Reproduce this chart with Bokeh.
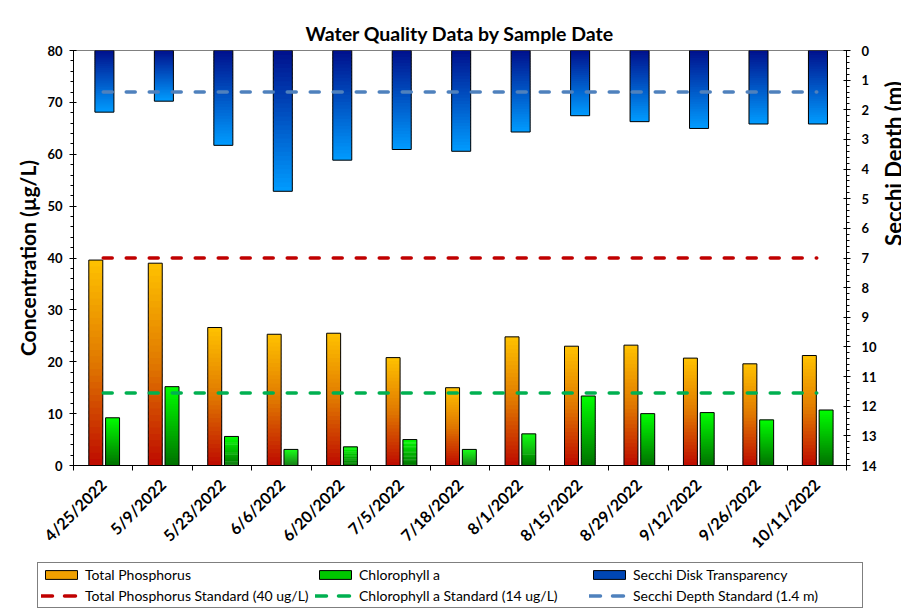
import numpy as np
from bokeh.plotting import figure
from bokeh.layouts import row, column
from bokeh.models import (Range1d, LinearAxis, FixedTicker, SingleIntervalTicker,
                          ColumnDataSource, Legend, LegendItem, Label)
from bokeh.embed import file_html
from bokeh.resources import INLINE

# ---------------- data ----------------
dates = ["4/25/2022", "5/9/2022", "5/23/2022", "6/6/2022", "6/20/2022", "7/5/2022",
         "7/18/2022", "8/1/2022", "8/15/2022", "8/29/2022", "9/12/2022", "9/26/2022",
         "10/11/2022"]
total_phosphorus = [39.6, 39.0, 26.6, 25.3, 25.5, 20.8, 15.0, 24.8, 23.0, 23.2, 20.7, 19.6, 21.2]
chlorophyll_a = [9.2, 15.2, 5.6, 3.1, 3.6, 5.0, 3.1, 6.1, 13.4, 10.0, 10.2, 8.8, 10.7]
secchi_depth = [2.08, 1.71, 3.20, 4.75, 3.70, 3.34, 3.40, 2.75, 2.20, 2.40, 2.63, 2.48, 2.48]
tp_standard = 40
chl_standard = 14
secchi_standard = 1.4

FONT = "Lato"
n = len(dates)
idx = np.arange(n)

TP_COLOR, CHL_COLOR, SEC_COLOR = "#C00000", "#00B050", "#4F81BD"
DASH = dict(line_width=3.5, line_dash="9 14", line_cap="round")
LEG_DASH = dict(line_width=3.5, line_dash="11 12", line_cap="round")

# ---------------- main figure ----------------
p = figure(width=879, height=560,
           x_range=Range1d(-0.5, n - 0.5), y_range=Range1d(0, 80),
           output_backend="svg", toolbar_location=None,
           min_border_left=73, min_border_right=32, min_border_top=50, min_border_bottom=94,
           title="Water Quality Data by Sample Date")
p.extra_y_ranges = {"secchi": Range1d(14, 0)}
p.xgrid.visible = False
p.ygrid.visible = False
p.outline_line_color = "#808080"
p.background_fill_color = "white"

p.title.text_font = FONT
p.title.text_font_size = "19.5px"
p.title.text_font_style = "bold"
p.title.text_color = "black"
p.title.align = "center"
p.title.standoff = 11


def interp(stops, t):
    for (p0, c0), (p1, c1) in zip(stops[:-1], stops[1:]):
        if p0 <= t <= p1:
            f = (t - p0) / (p1 - p0)
            r, g, b = [int(round(a + (bb - a) * f)) for a, bb in zip(c0, c1)]
            return "#%02x%02x%02x" % (r, g, b)
    return "#%02x%02x%02x" % stops[-1][1]


def gradient_source(xs, values, stops, nsl=32):
    # each slice overlaps the next one by half a slice; later slices cover it
    X, T, B, C = [], [], [], []
    for x, v in zip(xs, values):
        for k in range(nsl):
            X.append(x)
            B.append(v * k / nsl)
            T.append(v * min(k + 1.5, nsl) / nsl)
            C.append(interp(stops, (k + 0.5) / nsl))
    return ColumnDataSource(dict(x=X, top=T, bottom=B, color=C))


tp_stops = [(0.0, (190, 10, 0)), (0.5, (224, 120, 0)), (1.0, (255, 194, 0))]
chl_stops = [(0.0, (0, 112, 0)), (1.0, (0, 255, 0))]
sec_stops = [(0.0, (0, 16, 140)), (1.0, (0, 156, 255))]

tp_x = idx - 0.125
chl_x = idx + 0.157
sec_x = idx + 0.02
bar_w = 0.235
sec_w = 0.32

# Secchi bars (hanging from the top, inverted right axis)
p.vbar(x="x", top="top", bottom="bottom", width=sec_w, source=gradient_source(sec_x, secchi_depth, sec_stops),
       fill_color="color", line_color=None, y_range_name="secchi")
p.vbar(x=sec_x, top=0, bottom=secchi_depth, width=sec_w, fill_color=None,
       line_color="black", line_width=1, y_range_name="secchi")

# Total phosphorus bars
p.vbar(x="x", top="top", bottom="bottom", width=bar_w, source=gradient_source(tp_x, total_phosphorus, tp_stops),
       fill_color="color", line_color=None)
p.vbar(x=tp_x, top=total_phosphorus, bottom=0, width=bar_w, fill_color=None,
       line_color="black", line_width=1)

# Chlorophyll bars
p.vbar(x="x", top="top", bottom="bottom", width=bar_w, source=gradient_source(chl_x, chlorophyll_a, chl_stops),
       fill_color="color", line_color=None)
p.vbar(x=chl_x, top=chlorophyll_a, bottom=0, width=bar_w, fill_color=None,
       line_color="black", line_width=1)

# Standards lines
p.line(x=idx, y=[tp_standard] * n, line_color=TP_COLOR, **DASH)
p.line(x=idx, y=[chl_standard] * n, line_color=CHL_COLOR, **DASH)
p.line(x=idx, y=[secchi_standard] * n, line_color=SEC_COLOR, y_range_name="secchi", **DASH)

# ---------------- axes ----------------
xa = p.xaxis[0]
xa.ticker = FixedTicker(ticks=list(idx), minor_ticks=list(np.arange(-0.5, n, 1.0)))
xa.major_label_overrides = {int(i): d for i, d in zip(idx, dates)}
xa.major_label_orientation = np.pi / 4
xa.major_tick_line_color = None
xa.minor_tick_line_color = "black"
xa.minor_tick_out = 5
xa.minor_tick_in = 0
xa.axis_line_color = "black"
xa.major_label_text_font = FONT
xa.major_label_text_font_size = "16px"
xa.major_label_text_font_style = "bold"
xa.major_label_text_color = "black"
xa.major_label_standoff = 10

ya = p.yaxis[0]
ya.ticker = SingleIntervalTicker(interval=10, num_minor_ticks=5)
ya.axis_label = "Concentration (µg/L)"
ya.axis_label_text_font = FONT
ya.axis_label_text_font_size = "21px"
ya.axis_label_text_font_style = "bold"
ya.axis_label_text_color = "black"
ya.axis_label_standoff = 4

sec_axis = LinearAxis(y_range_name="secchi",
                      ticker=SingleIntervalTicker(interval=1, num_minor_ticks=5))
p.add_layout(sec_axis, "right")

for ax in (ya, sec_axis):
    ax.major_label_text_font = FONT
    ax.major_label_text_font_size = "13px"
    ax.major_label_text_font_style = "bold"
    ax.major_label_text_color = "black"
    ax.major_tick_out = 4
    ax.major_tick_in = 3
    ax.minor_tick_out = 3
    ax.minor_tick_in = 0
    ax.axis_line_color = "black"
    ax.major_tick_line_color = "black"
    ax.minor_tick_line_color = "black"
ya.major_label_standoff = 7
sec_axis.major_label_standoff = 11

# ---------------- right-hand axis title (narrow panel) ----------------
side = figure(width=22, height=560, x_range=Range1d(0, 1), y_range=Range1d(0, 1),
              output_backend="svg", toolbar_location=None,
              x_axis_location=None, y_axis_location=None,
              min_border_left=0, min_border_right=0, min_border_top=0, min_border_bottom=0)
side.xgrid.visible = False
side.ygrid.visible = False
side.outline_line_color = None
side.add_layout(Label(x=0, y=302, x_units="screen", y_units="screen",
                      text="Secchi Depth (m)", angle=np.pi / 2,
                      text_align="center", text_baseline="top",
                      text_font=FONT, text_font_size="22px", text_font_style="bold",
                      text_color="black"))

# ---------------- legend panel ----------------
leg = figure(width=901, height=54, x_range=Range1d(0, 1), y_range=Range1d(0, 1),
             output_backend="svg", toolbar_location=None,
             x_axis_location=None, y_axis_location=None,
             min_border_left=0, min_border_right=0, min_border_top=0, min_border_bottom=0)
leg.xgrid.visible = False
leg.ygrid.visible = False
leg.outline_line_color = None
# proxies placed outside the visible range: they only serve the legend
tp_proxy = leg.vbar(x=[5], top=[5], bottom=[4], width=0.2, fill_color="#F0A000", line_color="black")
chl_proxy = leg.vbar(x=[5], top=[5], bottom=[4], width=0.2, fill_color="#00C800", line_color="black")
sec_proxy = leg.vbar(x=[5], top=[5], bottom=[4], width=0.2, fill_color="#0046B4", line_color="black")
tp_lp = leg.line(x=[5, 6], y=[5, 5], line_color=TP_COLOR, **LEG_DASH)
chl_lp = leg.line(x=[5, 6], y=[5, 5], line_color=CHL_COLOR, **LEG_DASH)
sec_lp = leg.line(x=[5, 6], y=[5, 5], line_color=SEC_COLOR, **LEG_DASH)

legend = Legend(items=[
    LegendItem(label="Total Phosphorus", renderers=[tp_proxy]),
    LegendItem(label="Chlorophyll a", renderers=[chl_proxy]),
    LegendItem(label="Secchi Disk Transparency", renderers=[sec_proxy]),
    LegendItem(label="Total Phosphorus Standard (40 ug/L)", renderers=[tp_lp]),
    LegendItem(label="Chlorophyll a Standard (14 ug/L)", renderers=[chl_lp]),
    LegendItem(label="Secchi Depth Standard (1.4 m)", renderers=[sec_lp]),
], location=(37, 6), orientation="horizontal", ncols=3)
legend.label_text_font = FONT
legend.label_text_font_size = "14px"
legend.label_text_color = "black"
legend.glyph_width = 40
legend.glyph_height = 11
legend.label_height = 14
legend.label_width = 226
legend.label_standoff = 4
legend.spacing = 4
legend.padding = 3
legend.margin = 0
legend.border_line_color = "black"
legend.border_line_width = 1
legend.background_fill_alpha = 1
leg.add_layout(legend, "center")

layout = column(row(p, side), leg)
open("out.html", "w").write(file_html(layout, INLINE))
